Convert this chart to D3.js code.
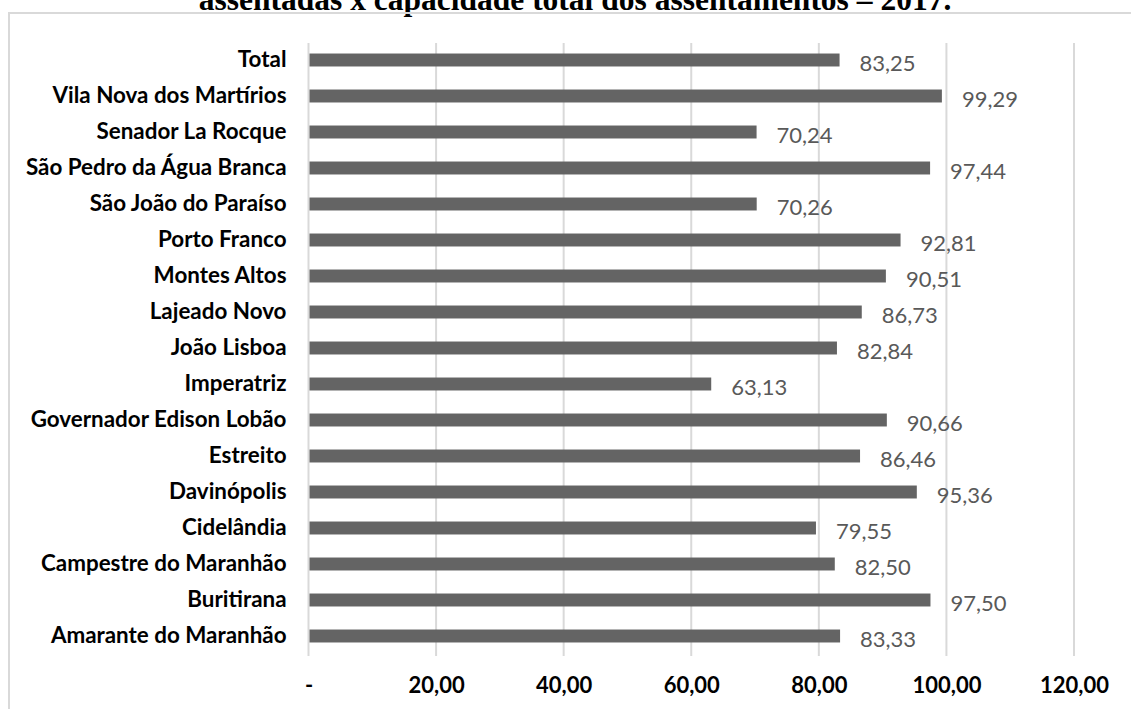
<!DOCTYPE html>
<html>
<head>
<meta charset="utf-8">
<script src="https://cdn.jsdelivr.net/npm/d3@7"></script>
<style>
  body { margin: 0; background: #fff; }
  svg { display: block; }
</style>
</head>
<body>
<script>
const categories = [
  'Total', 'Vila Nova dos Martírios', 'Senador La Rocque', 'São Pedro da Água Branca',
  'São João do Paraíso', 'Porto Franco', 'Montes Altos', 'Lajeado Novo', 'João Lisboa',
  'Imperatriz', 'Governador Edison Lobão', 'Estreito', 'Davinópolis', 'Cidelândia',
  'Campestre do Maranhão', 'Buritirana', 'Amarante do Maranhão'
];
const values = [83.25, 99.29, 70.24, 97.44, 70.26, 92.81, 90.51, 86.73, 82.84,
  63.13, 90.66, 86.46, 95.36, 79.55, 82.50, 97.50, 83.33];
const xTicks = [0, 20, 40, 60, 80, 100, 120];
const title = 'assentadas x capacidade total dos assentamentos – 2017.';

const width = 1131, height = 709;
const svg = d3.select('body').append('svg')
  .attr('width', width)
  .attr('height', height);

// title (cut at the top, as in the scanned page)
svg.append('text')
  .attr('x', 575)
  .attr('y', 10)
  .attr('text-anchor', 'middle')
  .attr('font-family', 'Liberation Serif')
  .attr('font-weight', 'bold')
  .attr('font-size', 31.5)
  .text(title);

// chart border
svg.append('rect')
  .attr('x', 9).attr('y', 13)
  .attr('width', 1140).attr('height', 720)
  .attr('fill', 'none')
  .attr('stroke', '#d9d9d9')
  .attr('stroke-width', 2);

const x = d3.scaleLinear().domain([0, 120]).range([308.5, 1074]);
const y = d3.scaleBand().domain(categories).range([42, 654]).paddingInner(0.64).paddingOuter(0.32);

const fmt = v => v === 0 ? '-' : d3.format('.2f')(v).replace('.', ',');

// gridlines
svg.append('g')
  .selectAll('line')
  .data(xTicks)
  .join('line')
  .attr('x1', d => x(d)).attr('x2', d => x(d))
  .attr('y1', 43).attr('y2', 656)
  .attr('stroke', '#d9d9d9')
  .attr('stroke-width', 2);

// x axis labels
const xAxis = svg.append('g')
  .attr('transform', 'translate(0,656)')
  .call(d3.axisBottom(x).tickValues(xTicks).tickFormat(fmt).tickSize(0).tickPadding(21));
xAxis.select('.domain').remove();
xAxis.selectAll('text')
  .attr('font-family', 'Lato')
  .attr('font-weight', 'bold')
  .attr('font-size', 22)
  .attr('fill', '#000');

// y axis labels
const yAxis = svg.append('g')
  .attr('transform', `translate(${x(0)},0)`)
  .call(d3.axisLeft(y).tickSize(0).tickPadding(22));
yAxis.select('.domain').remove();
yAxis.selectAll('text')
  .attr('font-family', 'Lato')
  .attr('font-weight', 'bold')
  .attr('font-size', 22.4)
  .attr('fill', '#000');

// bars
svg.append('g')
  .selectAll('rect')
  .data(values)
  .join('rect')
  .attr('x', x(0) + 1)
  .attr('y', (d, i) => y(categories[i]))
  .attr('width', d => x(d) - x(0) - 1)
  .attr('height', y.bandwidth())
  .attr('fill', '#646464');

// value labels
svg.append('g')
  .selectAll('text')
  .data(values)
  .join('text')
  .attr('x', d => x(d) + 20)
  .attr('y', (d, i) => y(categories[i]) + y.bandwidth() / 2 + 3)
  .attr('dy', '0.35em')
  .attr('font-family', 'Lato')
  .attr('font-size', 22)
  .attr('fill', '#595959')
  .text(fmt);
</script>
</body>
</html>
